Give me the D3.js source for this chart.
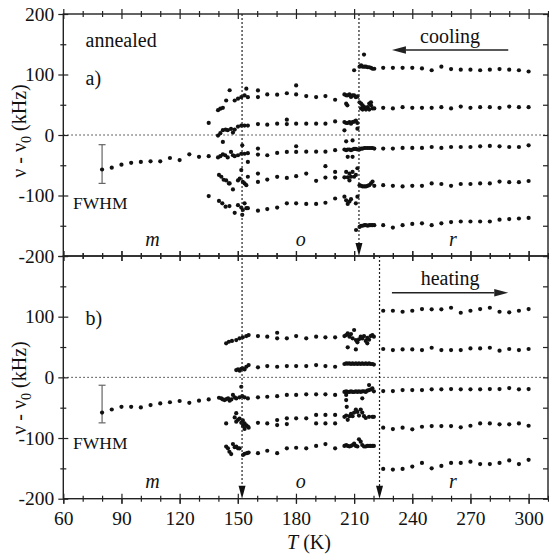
<!DOCTYPE html>
<html>
<head>
<meta charset="utf-8">
<script src="https://cdn.jsdelivr.net/npm/d3@7"></script>
<style>
  html, body { margin: 0; padding: 0; background: #fff; }
  svg { display: block; }
</style>
</head>
<body>
<svg id="chart" width="549" height="559"></svg>
<script>
(function () {
  "use strict";

  // ---- axis ticks ----
  const xMajor = [60, 90, 120, 150, 180, 210, 240, 270, 300];
  const xMinor = [70, 80, 100, 110, 130, 140, 160, 170, 190, 200, 220, 230, 250, 260, 280, 290, 310];
  const yMajor = [-200, -100, 0, 100, 200];
  const yMinor = [-150, -50, 50, 150];
  const yLabelsA = [-200, -100, 0, 100, 200];
  const yLabelsB = [-200, -100, 0, 100];

  // transition temperatures (dotted lines), K
  const coolLines = [152.2, 212.5];
  const heatLines = [152.2, 223.1];

  // FWHM bar: [T, centre, low, high]
  const fwhmA = [80, -57, -80, -16];
  const fwhmB = [80, -58, -75, -13];

  // ---- cooling (panel a), [T, v - v0] ----
  const coolM = [[85,-54],[90,-49],[95,-46],[100,-44.5],[105,-43.5],[110,-43.5],[115,-38],[120,-41.5],
    [125,-32],[130,-36],[135,-35],[135,20],[135,-101]];
  const coolNear152 = [
    [139.8,41],[141,43.5],[142.3,45],[144,57],[145.8,74],[148.4,57],[150.1,60],[151.8,62.5],[153.5,65.5],[154.4,76.5],[155.2,62.5],
    [139.8,-1],[141,3],[142.3,8],[142.3,-11.5],[143.7,9],[144.8,8],[146.5,10],[147.5,4],[148.4,9],[150.1,14],[151.8,15.5],[153.5,15.5],[155.2,15.5],
    [139.8,-37],[141,-35],[142.3,-32],[143.5,-33.5],[144.8,-37],[146.5,-28],[147.5,-33.5],[148.4,-35],[150.1,-33.5],[151.8,-31],[152.3,-17],[153.5,-31],[155.2,-30],[155.2,-44.5],
    [140.3,-66],[141.5,-69],[142.7,-74],[144,-75],[145.4,-80],[145.8,-80],[147.5,-90],[150.1,-75],[151,-72],[151.8,-58],[152.6,-77.5],[153.5,-80],[154.4,-83],[155.2,-69],
    [140.3,-109],[142,-113],[143.7,-118.5],[145.7,-117.5],[148.4,-128.6],[150.1,-116],[151.8,-120],[152.3,-132],[152.6,-124],[153.5,-113],[154.4,-121],[155.2,-121]
  ];
  const coolO = [
    [160.4,73.7],[160.4,62.7],[165.2,67],[170.3,66.6],[175.3,69],[180.1,82],[180.1,67],[185.3,64.3],[190.4,62.7],[195.2,64.3],[200.2,58.3],
    [160.4,18],[165.2,17],[170.3,18.8],[175.3,25.3],[175.3,18],[180.1,18.8],[185.3,18.8],[190.4,18.8],[195.2,18.8],[200.2,22.5],
    [160.4,-22.5],[160.4,-32.4],[165.2,-33.5],[170.3,-29.6],[175.3,-28],[180.1,-18.6],[180.1,-28],[185.3,-27.5],[190.4,-27.5],[195.2,-27.5],[200.2,-25],
    [160.4,-63.7],[160.4,-77.5],[165.2,-73.6],[170.3,-69.2],[175.3,-70.9],[180.1,-68],[185.3,-63.7],[190.4,-75.8],[195.2,-51.6],[195.2,-70.3],[200.2,-61],[200.2,-70.3],
    [160.4,-125],[165.2,-122.5],[170.3,-120],[175.3,-113],[180.1,-113],[185.3,-114],[190.4,-114],[195.2,-112],[200.2,-105]
  ];
  const coolNear212 = [
    [205,67],[205.9,65.5],[206.7,65.5],[207.6,67],[208.4,63],[209.2,65.5],[210,65.5],[210.9,62.6],[211.7,64],[205.9,51.7],[206.5,49],
    [205,21.4],[205.9,19.8],[206.7,19.8],[207.6,21.4],[208.4,18.7],[209.2,21.4],[210,22],[210.9,24],[211.7,19.8],[205,7.7],[211.7,10.5],
    [205,-24],[205.9,-25],[206.7,-24],[207.6,-24],[208.4,-25],[209.2,-24],[210,-23],[210.9,-23],[211.7,-24],[205.9,-10.5],[209.2,-9],[206.7,-36],[209.2,-36],
    [205,-70],[205.9,-61],[206.7,-70],[207.6,-64],[208.4,-69],[209.2,-61],[210,-69],[210.9,-66],[211.7,-55],[207.6,-75],
    [205,-102],[205.9,-108],[206.7,-114],[207.6,-110],[208.4,-106],[210.9,-113],[211.7,-102],
    [210,107],[215.1,133],[212.8,113],[213.6,115],[214.4,113],[215.3,113],[216.1,113],[217,112],[217.8,112],[218.7,111],[219.5,109.5],[220.4,109.5],
    [212.8,54],[213.6,52],[214.4,49],[215.3,46],[216.1,42],[217,46],[217.8,52],[218.7,49],[219.5,44],[220.4,44],[213.6,44],[214.4,42],[217.8,42],[218.7,54],
    [212.8,-24],[213.6,-22.5],[214.4,-22.5],[215.3,-21.5],[216.1,-21.5],[217,-21.5],[217.8,-21.5],[218.7,-21.5],[219.5,-21.5],[220.4,-22.5],
    [212.8,-83],[213.6,-84],[214.4,-85],[215.3,-85],[216.1,-85],[217,-84],[217.8,-83],[218.7,-80],[219.5,-77],[220.4,-84],
    [211,-157],[212.8,-152],[213.6,-150],[214.4,-150],[215.3,-149],[216.1,-149],[217,-150],[217.8,-149],[218.7,-149],[219.5,-149],[220.4,-149]
  ];

  const rTemps = [225, 230, 235, 240, 245, 250, 255, 260, 265, 270, 275, 280, 285, 290, 295, 300];
  const coolR1 = [111, 111, 111, 111, 110, 107, 113, 109, 108, 108, 107, 108, 109, 108, 107, 105];
  const coolR2 = [45, 44, 46, 45, 45, 45, 46, 44, 47, 45, 46, 46, 45, 47, 46, 46];
  const coolR3 = [-22.5, -22.5, -21.4, -21.4, -21.4, -19.8, -21.4, -19.8, -19.8, -19.8, -18.7, -18.1, -18.7, -19.8, -19.8, -17];
  const coolR4 = [-83, -84, -85, -84, -84, -80, -81, -84, -81, -81, -80, -80, -77, -78, -78, -76];
  const coolR5 = [-149, -153, -149, -147, -146, -149, -146, -144, -143, -143, -143, -143, -140, -139, -138, -137];

  // ---- heating (panel b) ----
  const heatM = [[85,-53],[90,-48.5],[95,-48.5],[100,-49.6],[105,-45.7],[110,-43],[115,-41],[120,-39],
    [125,-42],[130,-38.5],[135,-36.3]];
  const heatNear152 = [
    [144,56],[145.4,58.7],[147,60],[149.2,61.5],[150.9,64.3],[152.6,66],[154.4,68],[155.6,69.7],
    [149.2,12],[150.1,13],[151,11],[151.8,14],[152.6,15],[153.5,13],[154.4,17.5],[155.6,20.3],
    [140.3,-33.6],[141.5,-34.7],[142.3,-36.3],[143.2,-37.4],[144.1,-35.8],[145,-34.7],[145.8,-38.5],[146.7,-36.3],[147.5,-29],
    [148.4,-33],[149.2,-34.7],[150.9,-33],[151.8,-15.5],[152.3,-31],[153.5,-33],[155.2,-34.7],
    [144,-76],[148.4,-66],[149.2,-59],[149.2,-73],[150.1,-70],[150.9,-68],[151.8,-75],[152.6,-71],[152.7,-80],[153.5,-76],[153.5,-85],[154.4,-79],[155.2,-81],[155.6,-83],
    [144,-114],[144.9,-117],[145.7,-122.6],[146.6,-126.5],[147.5,-110],[148.4,-115],[149.2,-114],[150.1,-117],[150.9,-117],[152.7,-128],[153.5,-126],[154.7,-125],[155.6,-124]
  ];
  const heatO = [
    [160.4,68],[165.2,67],[170.3,73.5],[170.3,64.3],[175.3,64.3],[180.1,68],[185.3,64.3],[190.4,67],[195.2,66],[200.2,66],
    [160.4,16.5],[165.2,18.6],[170.3,17.5],[175.3,18.6],[180.1,18.6],[185.3,18.6],[190.4,20.3],[195.2,18.6],[200.2,17.5],
    [160.4,-33],[165.2,-32],[170.3,-31],[175.3,-29],[180.1,-29],[185.3,-28],[190.4,-28],[195.2,-28],[200.2,-29],
    [160.4,-75],[165.2,-76],[170.3,-70.4],[170.3,-78.6],[175.3,-67.6],[175.3,-77],[180.1,-67.6],[185.3,-67.6],[190.4,-62],[190.4,-76],[195.2,-62],[195.2,-76],[200.2,-62],[200.2,-76],
    [160.4,-125],[165.2,-121],[170.3,-125],[175.3,-117],[180.1,-116],[185.3,-117],[190.4,-113],[195.2,-110],[200.2,-117]
  ];
  const heatNear222 = [
    [205,68],[205.9,69.7],[206.7,72.5],[207.6,67],[208.4,71.4],[209.2,64.3],[210,78],[210.9,61.5],[211.7,57.7],[212.5,62.6],
    [213.4,67],[214.2,64],[215.1,68],[216,60],[216.8,65],[217.7,62],[218.5,68],[219.4,69.7],[220.2,67],[206.7,49.5],[210.9,46],[216.8,56],
    [205,22],[205.9,23],[206.7,22.5],[207.6,23],[208.4,22],[209.2,23],[210,22],[210.9,23],[211.7,22],[212.5,23],
    [213.4,22],[214.2,23],[215.1,22],[216,23],[216.8,22],[217.7,23],[218.5,22],[219.4,22],[220.2,21],
    [205,-24],[205.9,-23],[206.7,-24],[207.6,-24],[208.4,-23],[209.2,-24],[210,-24],[210.9,-23],[211.7,-24],[212.5,-23],
    [213.4,-24],[214.2,-23],[215.1,-23],[216,-24],[216.8,-22],[217.7,-21],[218.5,-20],[219.4,-18],[220.2,-23],
    [205.9,-29],[205.9,-37.4],[214.2,-34.6],[217.7,-12.7],
    [205,-65],[205.9,-63],[206.7,-70],[207.6,-64],[208.4,-60],[209.2,-64],[210,-58],[210.9,-53],[211.7,-57],[212.5,-63],
    [213.4,-53],[214.2,-58],[215.1,-64],[216,-67],[217.7,-65],[219.4,-65],[220.2,-65],[206.2,-48.5],
    [205,-113],[205.9,-111.5],[206.7,-113],[207.6,-114],[208.4,-113],[209.2,-111.5],[210,-109],[210.9,-113],[211.7,-114],
    [212.5,-102],[213.4,-106],[214.2,-111.5],[215.1,-114],[216,-114],[216.8,-113],[217.7,-113],[218.5,-113],[219.4,-113],[220.2,-113]
  ];
  const heatR1 = [109.8, 109.8, 108.1, 109.8, 112.6, 112.1, 112.1, 114.7, 106.5, 109.8, 112.6, 114.7, 108.1, 107.1, 109.8, 112.6];
  const heatR2 = [46.7, 45, 46.1, 46.1, 45, 48.8, 45, 45, 45, 47.7, 47.7, 48.8, 43.9, 46.7, 45, 46.7];
  const heatR3 = [-22.6, -22.6, -20.9, -20.9, -20.9, -19.8, -19.8, -19.3, -19.8, -19.8, -19.8, -19.3, -19.3, -17.6, -19.8, -19.3];
  const heatR4 = [-83, -85.2, -83, -85.7, -81.4, -80.3, -80.3, -80.3, -82.4, -79.8, -75.9, -75.9, -77.5, -77.5, -75.9, -79.8];
  const heatR5 = [-151, -152, -151, -147, -141, -150, -146, -141, -141, -139, -143, -143, -141, -137, -143, -136];

  // ---- layout ----
  const FONT = "'Liberation Serif'";
  const INK = "#111";
  const svg = d3.select("#chart");
  const x = d3.scaleLinear().domain([60, 310]).range([63.3, 548]);
  const yA = d3.scaleLinear().domain([-200, 200]).range([256, 14]);
  const yB = d3.scaleLinear().domain([-200, 200]).range([498.7, 256]);

  function rPoints(series) {
    const out = [];
    series.forEach((vals) => vals.forEach((v, i) => out.push([rTemps[i], v])));
    return out;
  }

  function styleAxis(sel) {
    sel.attr("font-family", null).attr("font-size", null);
    sel.select(".domain").remove();
    sel.selectAll("line").attr("stroke", "#222").attr("stroke-width", 1.2);
    sel.selectAll("text").style("font-family", FONT).style("font-size", "19.5px").attr("fill", INK);
  }

  function axis(g, gen, scale, values, size, tx, ty, fmt, pad) {
    const a = gen(scale).tickValues(values).tickSizeInner(size).tickSizeOuter(0)
      .tickPadding(pad || 4).tickFormat(fmt || (() => ""));
    const sel = g.append("g").attr("transform", `translate(${tx},${ty})`).call(a);
    styleAxis(sel);
    return sel;
  }

  function label(g, tx, ty, s, size) {
    return g.append("text").attr("x", tx).attr("y", ty)
      .style("font-family", FONT).style("font-size", size + "px").attr("fill", INK).text(s);
  }

  function drawPanel(y, opts) {
    const g = svg.append("g");
    const [x0, x1] = x.range();
    const top = y(200), bot = y(-200);

    // zero line
    g.append("line")
      .attr("x1", x0).attr("x2", x1).attr("y1", y(0)).attr("y2", y(0))
      .attr("stroke", "#333").attr("stroke-width", 1).attr("stroke-dasharray", "1.5,2.5");

    // ticks on all four sides, crossing the frame
    [[d3.axisBottom, bot], [d3.axisTop, top]].forEach(([gen, ty]) => {
      axis(g, gen, x, xMajor, 5, 0, ty);
      axis(g, gen, x, xMajor, -5, 0, ty);
      axis(g, gen, x, xMinor, 3, 0, ty);
      axis(g, gen, x, xMinor, -3, 0, ty);
    });
    axis(g, d3.axisLeft, y, yMajor, 5, x0, 0, (d) => (opts.yLabels.includes(d) ? String(d) : ""), 4);
    axis(g, d3.axisLeft, y, yMajor, -5, x0, 0);
    axis(g, d3.axisLeft, y, yMinor, 3, x0, 0);
    axis(g, d3.axisLeft, y, yMinor, -3, x0, 0);
    axis(g, d3.axisRight, y, yMajor.concat(yMinor), -5, x1, 0);
    if (opts.xLabels) {
      axis(g, d3.axisBottom, x, xMajor, 5, 0, bot, (d) => String(d), 7);
    }

    // frame
    g.append("rect")
      .attr("x", x0).attr("y", top).attr("width", x1 - x0).attr("height", bot - top)
      .attr("fill", "none").attr("stroke", "#222").attr("stroke-width", 1.4);

    // FWHM bar
    const [fT, fc, flo, fhi] = opts.fwhm;
    const fx = x(fT);
    const bar = g.append("g").attr("stroke", "#666").attr("stroke-width", 1.2);
    bar.append("line").attr("x1", fx).attr("x2", fx).attr("y1", y(flo)).attr("y2", y(fhi));
    bar.append("line").attr("x1", fx - 3.5).attr("x2", fx + 3.5).attr("y1", y(flo)).attr("y2", y(flo));
    bar.append("line").attr("x1", fx - 3.5).attr("x2", fx + 3.5).attr("y1", y(fhi)).attr("y2", y(fhi));

    // data points
    const pts = opts.points.concat([[fT, fc]]);
    g.append("g").selectAll("circle")
      .data(pts)
      .enter()
      .append("circle")
      .attr("cx", (d) => x(d[0]))
      .attr("cy", (d) => y(d[1]))
      .attr("r", 2.1)
      .attr("fill", INK);

    // texts
    label(g, x(80) - 29, opts.fwhmY, "FWHM", 17.5);
    [["m", 106], ["o", 182.5], ["r", 261]].forEach(([s, T]) => {
      label(g, x(T), opts.phaseY, s, 20).style("font-style", "italic").attr("text-anchor", "middle");
    });
    label(g, x(71.5), opts.tagY, opts.tag, 20);

    // y label
    const yl = g.append("text")
      .attr("transform", `translate(26,${opts.labelY}) rotate(-90)`)
      .attr("text-anchor", "middle").style("font-family", FONT).style("font-size", "20px").attr("fill", INK);
    yl.append("tspan").text("\u03BD - \u03BD");
    yl.append("tspan").attr("dy", 5).style("font-size", "14px").text("0");
    yl.append("tspan").attr("dy", -5).text(" (kHz)");

    // direction arrow
    const ay = opts.arrowY;
    const ax0 = x(229.5), ax1 = x(289.5);
    label(g, (ax0 + ax1) / 2, opts.dirY, opts.dir, 20).attr("text-anchor", "middle");
    const tip = opts.dirLeft ? ax0 : ax1;
    const base = opts.dirLeft ? ax0 + 14 : ax1 - 14;
    g.append("line")
      .attr("x1", opts.dirLeft ? base : ax0).attr("x2", opts.dirLeft ? ax1 : base)
      .attr("y1", ay).attr("y2", ay).attr("stroke", "#222").attr("stroke-width", 1.6);
    g.append("path")
      .attr("d", `M${tip},${ay} L${base},${ay - 3.8} L${base},${ay + 3.8} Z`)
      .attr("fill", "#222");

    if (opts.note) label(g, x(71.5), opts.noteY, opts.note, 20);
    return g;
  }

  function dottedArrow(T, yTop, yBot) {
    const lx = x(T);
    svg.append("line")
      .attr("x1", lx).attr("x2", lx).attr("y1", yTop).attr("y2", yBot - 10)
      .attr("stroke", "#222").attr("stroke-width", 1.2).attr("stroke-dasharray", "2,2");
    svg.append("path")
      .attr("d", `M${lx},${yBot} L${lx - 3.5},${yBot - 13} L${lx + 3.5},${yBot - 13} Z`)
      .attr("fill", "#111");
  }

  drawPanel(yA, {
    points: [].concat(coolM, coolNear152, coolO, coolNear212, rPoints([coolR1, coolR2, coolR3, coolR4, coolR5])),
    yLabels: yLabelsA,
    xLabels: false,
    fwhm: fwhmA,
    fwhmY: 208.5,
    phaseY: 246,
    tag: "a)",
    tagY: 85,
    note: "annealed",
    noteY: 46.5,
    labelY: 131,
    dir: "cooling",
    dirY: 43,
    arrowY: 50,
    dirLeft: true,
  });

  drawPanel(yB, {
    points: [].concat(heatM, heatNear152, heatO, heatNear222, rPoints([heatR1, heatR2, heatR3, heatR4, heatR5])),
    yLabels: yLabelsB,
    xLabels: true,
    fwhm: fwhmB,
    fwhmY: 448.5,
    phaseY: 488,
    tag: "b)",
    tagY: 325,
    labelY: 388,
    dir: "heating",
    dirY: 285,
    arrowY: 292.7,
    dirLeft: false,
  });

  // transition markers
  dottedArrow(coolLines[0], yA(200), yB(-200));
  dottedArrow(coolLines[1], yA(200), yA(-200));
  dottedArrow(heatLines[1], yB(200), yB(-200));

  // x label
  const xl = svg.append("text")
    .attr("x", 309).attr("y", 549).attr("text-anchor", "middle")
    .style("font-family", FONT).style("font-size", "20px").attr("fill", INK);
  xl.append("tspan").style("font-style", "italic").text("T");
  xl.append("tspan").text(" (K)");
})();
</script>
</body>
</html>
